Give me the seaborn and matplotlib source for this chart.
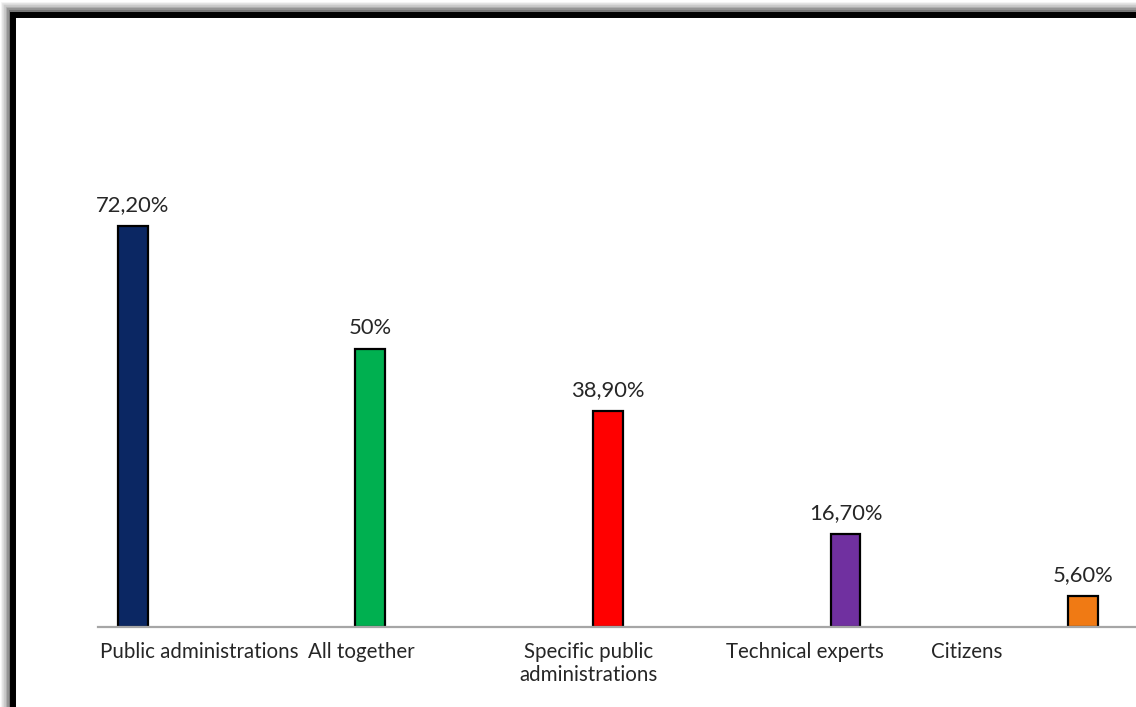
import matplotlib
matplotlib.use("Agg")
import matplotlib.pyplot as plt
import matplotlib.patches as mpatches
import pandas as pd
import seaborn as sns

categories = ["Public administrations", "All together", "Specific public administrations",
              "Technical experts", "Citizens"]
values = [72.2, 50.0, 38.9, 16.7, 5.6]
value_labels = ["72,20%", "50%", "38,90%", "16,70%", "5,60%"]
tick_labels = ["Public administrations", "All together", "Specific public\nadministrations",
               "Technical experts", "Citizens"]
colors = ["#0B2763", "#00B050", "#FF0000", "#7030A0", "#F07A14"]

df = pd.DataFrame({"category": categories, "value": values})

sns.set_style("white")
plt.rcParams["font.family"] = ["Lato", "DejaVu Sans"]

fig = plt.figure(figsize=(11.36, 7.07), dpi=100)

# frame with soft shadow, cropped by the image edges
W, H = 1136, 707
for k, a in zip(range(6, 0, -1), [0.05, 0.07, 0.09, 0.12, 0.16, 0.2]):
    fig.patches.append(mpatches.Rectangle(
        ((13 - k) / W, -0.2), 1.5, (H - 14 + k) / H + 0.2,
        transform=fig.transFigure, fill=False, edgecolor="black",
        linewidth=4.3 + k * 0.8, alpha=a, zorder=0))
fig.patches.append(mpatches.Rectangle(
    (13 / W, -0.2), 1.5, (H - 14.5) / H + 0.2,
    transform=fig.transFigure, fill=False, edgecolor="black", linewidth=4.3, zorder=1))

ax = fig.add_axes([98 / W, 80 / H, 1 - 98 / W, 587 / H])
sns.barplot(data=df, x="category", y="value", hue="category", palette=colors,
            dodge=False, legend=False, width=0.126, edgecolor="black",
            linewidth=1.6, saturation=1, ax=ax)

ax.set_xlim(-0.147, 4.223)
ax.set_ylim(0, 105.7)

for i, (v, lab) in enumerate(zip(values, value_labels)):
    ax.text(i, v + 2.0, lab, ha="center", va="bottom", fontsize=15.8, color="#262626")

# category labels sit off the bars in the original
ax.set_xticks([0.28, 0.96, 1.92, 2.83, 3.51])
ax.set_xticklabels(tick_labels, fontsize=14.8, color="#262626", linespacing=1.15)
ax.tick_params(axis="x", length=0, pad=11)
ax.set_yticks([])
ax.set_xlabel("")
ax.set_ylabel("")
for s in ["top", "right", "left"]:
    ax.spines[s].set_visible(False)
ax.spines["bottom"].set_color("#A6A6A6")
ax.spines["bottom"].set_linewidth(1.6)

fig.savefig("out.png", dpi=100)
